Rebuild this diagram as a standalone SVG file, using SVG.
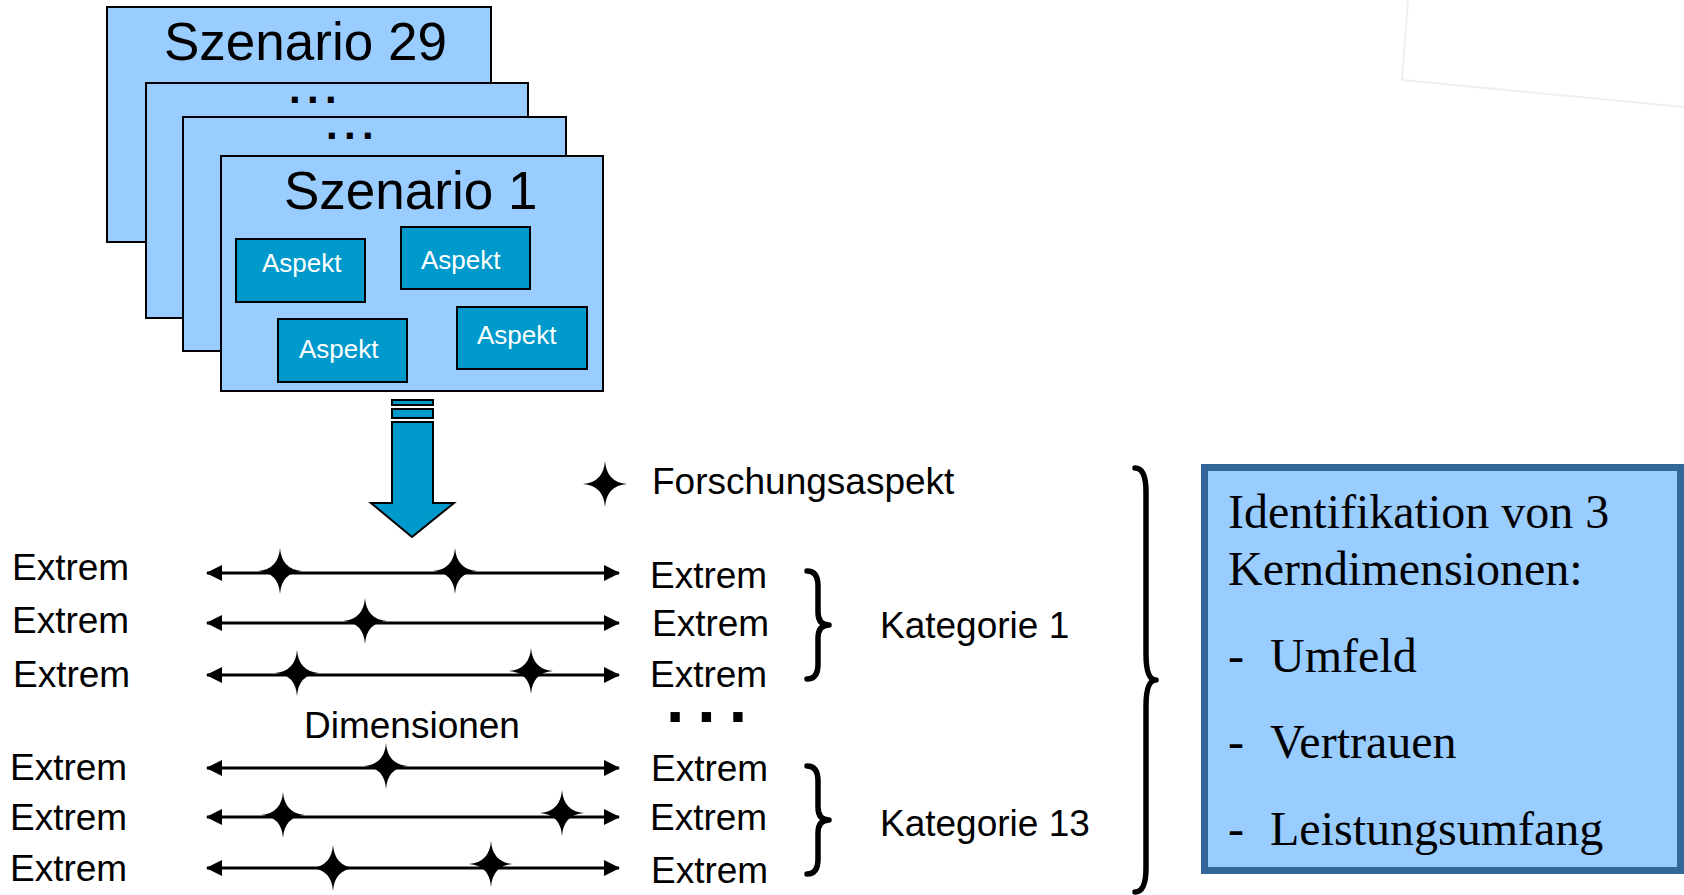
<svg xmlns="http://www.w3.org/2000/svg" width="1684" height="895" viewBox="0 0 1684 895">
<style>
.card{fill:#99CCFF;stroke:#000;stroke-width:2}
.asp{fill:#0099CC;stroke:#000;stroke-width:2}
.t{font-family:"Liberation Sans",Arial,sans-serif;fill:#000}
.big{font-size:53px}
.aspt{font-size:26px;fill:#fff}
.lab{font-size:37px}
.dots{font-family:"Liberation Sans",Arial,sans-serif;font-weight:bold;fill:#000}
.ser{font-family:"Liberation Serif","Times New Roman",serif;font-size:48px;fill:#000}
.axis{stroke:#000;stroke-width:3;fill:none;marker-start:url(#ah);marker-end:url(#ah)}
.brace{fill:none;stroke:#000;stroke-width:5.5;stroke-linecap:round;stroke-linejoin:round}
</style>
<defs>
<marker id="ah" viewBox="0 0 16 16" refX="15" refY="8" markerWidth="16" markerHeight="16" markerUnits="userSpaceOnUse" orient="auto-start-reverse">
<path d="M0,0 L16,8 L0,16 Z" fill="#000"/>
</marker>
<path id="star" d="M0,-23 Q1.6,-1.6 22,0 Q1.6,1.6 0,23 Q-1.6,1.6 -22,0 Q-1.6,-1.6 0,-23 Z" fill="#000"/>
</defs>
<rect width="1684" height="895" fill="#fff"/>
<polyline points="1408,0 1402,80 1684,107" fill="none" stroke="#efefef" stroke-width="2"/>

<g id="card29">
<rect class="card" x="107" y="7" width="384" height="235"/>
<text class="t big" x="164" y="60">Szenario 29</text>
</g>
<g id="card-dots-a">
<rect class="card" x="146" y="83" width="382" height="235"/>
<text class="dots" x="289" y="103" font-size="42" letter-spacing="6.3">...</text>
</g>
<g id="card-dots-b">
<rect class="card" x="183" y="117" width="383" height="234"/>
<text class="dots" x="326" y="139" font-size="42" letter-spacing="6.3">...</text>
</g>
<g id="card1">
<rect class="card" x="221" y="156" width="382" height="235"/>
<text class="t big" x="284" y="209" font-size="52">Szenario 1</text>
</g>
<g id="aspekt1"><rect class="asp" x="236" y="239" width="129" height="63"/><text class="t aspt" x="262" y="272">Aspekt</text></g>
<g id="aspekt2"><rect class="asp" x="401" y="227" width="129" height="62"/><text class="t aspt" x="421" y="269">Aspekt</text></g>
<g id="aspekt3"><rect class="asp" x="278" y="319" width="129" height="63"/><text class="t aspt" x="299" y="358">Aspekt</text></g>
<g id="aspekt4"><rect class="asp" x="457" y="307" width="130" height="62"/><text class="t aspt" x="477" y="344">Aspekt</text></g>

<g id="bigarrow" fill="#0099CC" stroke="#000" stroke-width="2">
<rect x="392" y="400" width="41" height="5"/>
<rect x="392" y="409" width="41" height="9"/>
<polygon points="392,422 433,422 433,503 454,503 412,537 371,503 392,503"/>
</g>

<g id="legend">
<use href="#star" x="605" y="484"/>
<text class="t lab" x="652" y="494">Forschungsaspekt</text>
</g>

<g id="connectors">
<line class="axis" x1="207" y1="573" x2="619" y2="573"/>
<line class="axis" x1="207" y1="623" x2="619" y2="623"/>
<line class="axis" x1="207" y1="675" x2="619" y2="675"/>
<line class="axis" x1="207" y1="768" x2="619" y2="768"/>
<line class="axis" x1="207" y1="817" x2="619" y2="817"/>
<line class="axis" x1="207" y1="868" x2="619" y2="868"/>
<path class="brace" d="M807,571 Q818,571 818,586 L818,612 Q818,625 829,625 Q818,625 818,638 L818,664 Q818,679 807,679"/>
<path class="brace" d="M807,766 Q818,766 818,781 L818,807 Q818,820 829,820 Q818,820 818,833 L818,859 Q818,874 807,874"/>
<path class="brace" d="M1135,468 Q1146,468 1146,492 L1146,654 Q1146,680 1156,680 Q1146,680 1146,706 L1146,868 Q1146,892 1135,892"/>
</g>

<g id="stars">
<use href="#star" x="280" y="571"/>
<use href="#star" x="455" y="571"/>
<use href="#star" x="365" y="621"/>
<use href="#star" x="297" y="673"/>
<use href="#star" x="531" y="671"/>
<use href="#star" x="386" y="766"/>
<use href="#star" x="283" y="815"/>
<use href="#star" x="562" y="813"/>
<use href="#star" x="333" y="868"/>
<use href="#star" x="491" y="864"/>
</g>

<g id="labels-left">
<text class="t lab" x="12" y="580">Extrem</text>
<text class="t lab" x="12" y="633">Extrem</text>
<text class="t lab" x="13" y="687">Extrem</text>
<text class="t lab" x="10" y="780">Extrem</text>
<text class="t lab" x="10" y="830">Extrem</text>
<text class="t lab" x="10" y="881">Extrem</text>
</g>
<g id="labels-right">
<text class="t lab" x="650" y="588">Extrem</text>
<text class="t lab" x="652" y="636">Extrem</text>
<text class="t lab" x="650" y="687">Extrem</text>
<text class="t lab" x="651" y="781">Extrem</text>
<text class="t lab" x="650" y="830">Extrem</text>
<text class="t lab" x="651" y="883">Extrem</text>
</g>
<g id="dimensionen"><text class="t lab" x="304" y="738">Dimensionen</text></g>
<g id="ellipsis"><text class="dots" x="666" y="722" font-size="66" letter-spacing="13">...</text></g>
<g id="kategorie1"><text class="t lab" x="880" y="638">Kategorie 1</text></g>
<g id="kategorie13"><text class="t lab" x="880" y="836">Kategorie 13</text></g>

<g id="result">
<rect x="1204.5" y="467.5" width="476" height="403" fill="#99CCFF" stroke="#336699" stroke-width="7"/>
<text class="ser" x="1228" y="528">Identifikation von 3</text>
<text class="ser" x="1228" y="585">Kerndimensionen:</text>
<text class="ser" x="1228" y="672">-</text><text class="ser" x="1270" y="672">Umfeld</text>
<text class="ser" x="1228" y="758">-</text><text class="ser" x="1270" y="758">Vertrauen</text>
<text class="ser" x="1228" y="845">-</text><text class="ser" x="1270" y="845">Leistungsumfang</text>
</g>
</svg>
